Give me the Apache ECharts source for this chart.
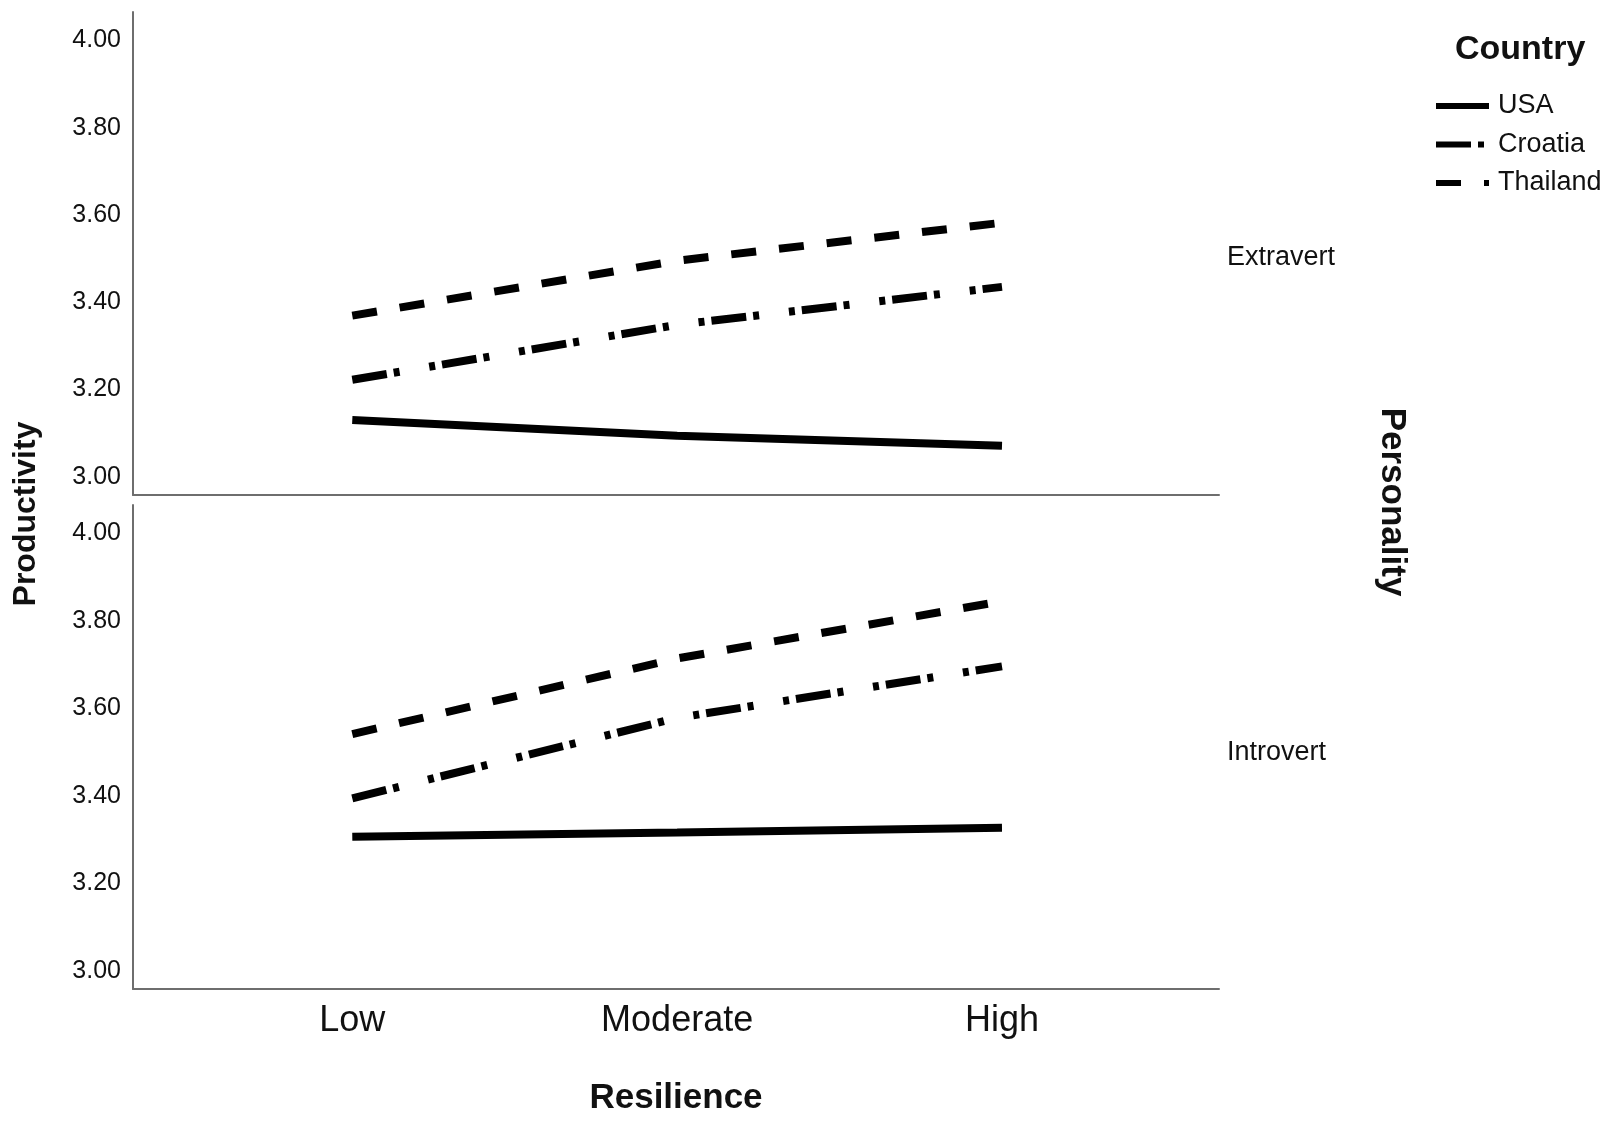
<!DOCTYPE html>
<html>
<head>
<meta charset="utf-8">
<script src="https://cdn.jsdelivr.net/npm/echarts@6/dist/echarts.min.js"></script>
<style>html,body{margin:0;padding:0;background:#fff;}#c{width:1623px;height:1126px;}</style>
</head>
<body>
<div id="c"></div>
<script>
// ---- data ----
const categories = ['Low', 'Moderate', 'High'];
const countries = ['USA', 'Croatia', 'Thailand'];
const panels = ['Extravert', 'Introvert'];
const yTicks = [3.0, 3.2, 3.4, 3.6, 3.8, 4.0];
// Extravert panel
const extravertUSA = [3.130, 3.094, 3.071];
const extravertCroatia = [3.222, 3.348, 3.435];
const extravertThailand = [3.369, 3.495, 3.582];
// Introvert panel
const introvertUSA = [3.306, 3.316, 3.327];
const introvertCroatia = [3.394, 3.578, 3.696];
const introvertThailand = [3.541, 3.714, 3.845];

const panelData = [
  [extravertUSA, extravertCroatia, extravertThailand],
  [introvertUSA, introvertCroatia, introvertThailand]
];
const dashTypes = ['solid', [35, 7, 6, 30, 6, 7], [25, 23]];

const chart = echarts.init(document.getElementById('c'), null, {renderer: 'canvas'});
const font = 'Liberation Sans, Arial, sans-serif';
const axisLineStyle = {color: '#6e6e6e', width: 2};

const grids = [
  {left: 133, top: 12, width: 1086, height: 483},
  {left: 133, top: 505, width: 1086, height: 484}
];
const xAxes = [0, 1].map(i => ({
  type: 'value', gridIndex: i, min: -0.675, max: 2.668,
  splitLine: {show: false},
  axisLine: {show: true, onZero: false, lineStyle: axisLineStyle},
  axisTick: {show: false},
  axisLabel: i === 1 ? {
    show: true, customValues: [0, 1, 2],
    formatter: v => categories[Math.round(v)],
    fontFamily: font, fontSize: 36, color: '#111', margin: 14
  } : {show: false},
  name: i === 1 ? 'Resilience' : '',
  nameLocation: 'middle', nameGap: 92,
  nameTextStyle: {fontFamily: font, fontSize: 35, fontWeight: 'bold', color: '#111'}
}));
const yAxes = [0, 1].map(i => ({
  type: 'value', gridIndex: i, min: 2.958, max: 4.065,
  splitLine: {show: false},
  axisLine: {show: true, onZero: false, lineStyle: axisLineStyle},
  axisTick: {show: false},
  axisLabel: {
    show: true, customValues: yTicks,
    formatter: v => v.toFixed(2),
    fontFamily: font, fontSize: 25, color: '#111', margin: 12
  }
}));

const series = [];
panelData.forEach((rows, gi) => {
  rows.forEach((vals, ci) => {
    series.push({
      name: countries[ci], type: 'line', xAxisIndex: gi, yAxisIndex: gi,
      data: vals.map((v, k) => [k, v]),
      symbol: 'none', silent: true, color: '#000',
      itemStyle: {color: '#000'},
      lineStyle: {color: '#000', width: 8, type: dashTypes[ci], cap: 'butt'}
    });
  });
});

chart.setOption({
  animation: false,
  backgroundColor: '#fff',
  title: {
    text: 'Country', left: 1450, top: 28,
    textStyle: {fontFamily: font, fontSize: 34, fontWeight: 'bold', color: '#111'}
  },
  legend: {
    data: countries, orient: 'vertical', left: 1428, top: 87,
    itemWidth: 53, itemHeight: 14, itemGap: 10.5,
    itemStyle: {opacity: 0},
    lineStyle: {width: 6},
    textStyle: {fontFamily: font, fontSize: 27, color: '#111', lineHeight: 28, padding: [0, 0, 0, 4]}
  },
  grid: grids,
  xAxis: xAxes,
  yAxis: yAxes,
  series: series,
  graphic: [
    {type: 'text', x: 26, y: 514, rotation: Math.PI / 2,
     style: {text: 'Productivity', font: 'bold 32px ' + font, fill: '#111', textAlign: 'center', textVerticalAlign: 'middle'}},
    {type: 'text', x: 1392, y: 502, rotation: -Math.PI / 2,
     style: {text: 'Personality', font: 'bold 35px ' + font, fill: '#111', textAlign: 'center', textVerticalAlign: 'middle'}},
    {type: 'text', x: 1227, y: 258,
     style: {text: panels[0], font: '27px ' + font, fill: '#111', textAlign: 'left', textVerticalAlign: 'middle'}},
    {type: 'text', x: 1227, y: 753,
     style: {text: panels[1], font: '27px ' + font, fill: '#111', textAlign: 'left', textVerticalAlign: 'middle'}}
  ]
});
</script>
</body>
</html>
